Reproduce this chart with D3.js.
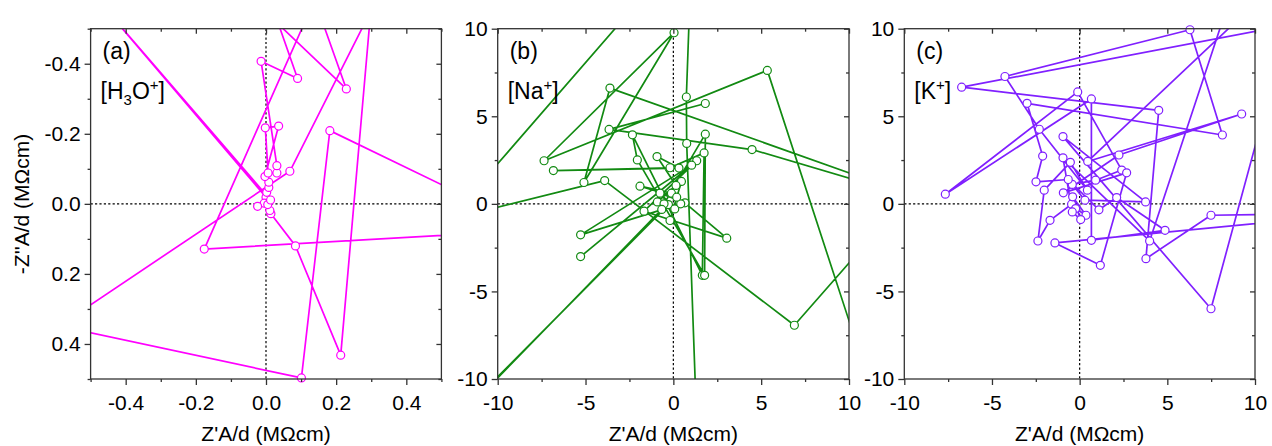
<!DOCTYPE html>
<html>
<head>
<meta charset="utf-8">
<script src="https://cdn.jsdelivr.net/npm/d3@7"></script>
<style>
  body { margin: 0; background: #fff; }
  svg { display: block; }
  text { font-family: "Liberation Sans", Arial, sans-serif; fill: #000; }
</style>
</head>
<body>
<svg id="chart" width="1272" height="446"></svg>
<script>
// ---- Data: normalised impedance trajectories (Z'A/d, -Z''A/d) in MOhm cm ----
// (a) H3O+
const h3oZre = [0.9, -0.176, 0.279, 0.475, 0.068, -0.95, -0.95, 0.101, 0.182, 1.2, 1.5, -0.92,
  0.0, 0.002, 0.008, 0.008, -0.003, 0.036, -0.002, 0.006, 0.031, 0.031, -0.014, 0.090, -0.10, -0.37,
  0.229, 0.026, 0.329, 0.213, 0.084, 0.014, 0.011, -0.005, 0.005, -0.024, 0.013, -0.90];
const h3oZim = [0.067, 0.129, -0.9, -0.9, -0.093, 0.59, 0.271, 0.497, -0.209, 0.284, -1.5, -1.10,
  -0.019, -0.033, -0.047, -0.062, -0.078, -0.222, -0.217, -0.088, -0.088, -0.109, -0.407, -0.358, -0.9, -0.9,
  -0.328, -0.9, -0.9, 0.432, 0.120, 0.028, 0.019, -0.002, 0.002, 0.007, -0.011, -1.07];

// (b) Na+
const naZre = [-12, -1.59, 0.95, 0.74, 0.76, 1.31, -12, -0.28, 0.08, -0.76, 0.66, 3.04, -1.67, 1.33,
  -5.28, 1.04, -5.28, 0.42, -0.11, -1.90, 0.19, -0.19, 0.46, -0.91, 0.15, -0.93, 0.32, -6.83, -0.19,
  1.75, 1.65, -2.33, -2.05, 1.78, 1.82, -0.53, -0.66, -12, -12, -3.91, 6.89, 12, 11, 5.35, -7.36,
  0.04, -5.09, -3.61, 12, 12, 4.48, -3.66, 1.82];
const naZim = [-0.02, 12, 12, 6.10, 3.45, -12, -11.9, -0.04, -0.29, 0.61, 0.06, -1.96, -0.42, 2.46,
  -3.01, 2.21, -1.77, 0.0, 0.61, 1.01, 0.38, -0.95, 1.28, 0.11, 1.05, 2.70, 2.04, 1.90, 2.06,
  2.91, -4.08, 3.94, 2.51, -4.08, 3.98, 0.0, -0.32, -12.0, -0.7, 1.33, -6.93, -1.09, -9.74, 7.62, 2.46,
  9.77, 1.22, 6.61, 1.06, 0.88, 3.10, 4.25, 5.73];

// (c) K+
const kZre = [11, 7.49, -0.95, 3.76, 0.30, -0.42, 0.91, 2.40, -0.11, -7.66, 0.67, 0.67, 4.87, 2.11,
  1.10, -0.65, -2.49, -2.11, -3.00, 8.14, 6.29, -4.26, -2.30, 0.44, -0.53, -2.02, -2.38, -1.69, -0.46,
  -0.23, 0.36, -0.40, 0.06, -0.42, -0.95, 3.99, 8.66, 10.6, 0.46, 9.24, 2.24, -0.93, 2.68, 1.18, -1.41,
  12, 12, 7.49, 3.78, 4.51, -6.73, 12];
const kZim = [6.95, -5.99, 3.84, 0.11, 0.21, 1.11, 1.35, 1.93, 6.39, 0.55, 5.99, -2.08, -1.51, 0.36,
  -0.34, 1.39, 1.26, 2.73, 5.74, 3.93, 9.94, 7.27, 4.26, 0.78, 2.37, 0.78, -2.12, -0.94, -0.02,
  -0.27, -0.65, 0.40, -0.90, -0.46, 2.63, -2.12, 12, 12, 2.42, 5.13, 2.79, 0.63, 1.77, -3.51, -2.23,
  -0.94, -0.58, -0.65, -3.13, 5.34, 6.66, 10.23];

// ---- Axis ticks and labels ----
const ticksA = [-0.4, -0.2, 0.0, 0.2, 0.4];
const minorA = [-0.5, -0.3, -0.1, 0.1, 0.3, 0.5];
const ticksBC = [-10, -5, 0, 5, 10];
const minorBC = [-7.5, -2.5, 2.5, 7.5];
const panelTags = ["(a)", "(b)", "(c)"];
const xTitle = "Z'A/d (M\u03A9cm)";
const yTitle = "-Z''A/d (M\u03A9cm)";

// ---- Layout ----
const svg = d3.select("#chart");
const plotTop = 28.7, plotBottom = 379;
const panels = [
  { x0: 90.6, x1: 441.4, dom: [-0.5, 0.5], yDom: [-0.5, 0.5], major: ticksA, minor: minorA,
    fmt: d => d.toFixed(1), zr: h3oZre, zi: h3oZim, color: "#ff00ff",
    ion: [["[H", 0], ["3", -1], ["O", 0], ["+", 1], ["]", 0]] },
  { x0: 497.7, x1: 849, dom: [-10, 10], yDom: [10, -10], major: ticksBC, minor: minorBC,
    fmt: d => String(d), zr: naZre, zi: naZim, color: "#128a12",
    ion: [["[Na", 0], ["+", 1], ["]", 0]] },
  { x0: 904.3, x1: 1255, dom: [-10, 10], yDom: [10, -10], major: ticksBC, minor: minorBC,
    fmt: d => String(d), zr: kZre, zi: kZim, color: "#8020ff",
    ion: [["[K", 0], ["+", 1], ["]", 0]] }
];

const axisColor = "#333";

panels.forEach((p, i) => {
  const x = d3.scaleLinear().domain(p.dom).range([p.x0, p.x1]);
  const y = d3.scaleLinear().domain(p.yDom).range([plotTop, plotBottom]);
  const g = svg.append("g");

  const clipId = "clip" + i;
  svg.append("clipPath").attr("id", clipId)
    .append("rect").attr("x", p.x0).attr("y", plotTop)
    .attr("width", p.x1 - p.x0).attr("height", plotBottom - plotTop);

  // dotted zero lines
  g.append("line").attr("x1", x(0)).attr("x2", x(0)).attr("y1", plotTop).attr("y2", plotBottom)
    .attr("stroke", "#000").attr("stroke-width", 1.2).attr("stroke-dasharray", "2.2,2.2");
  g.append("line").attr("x1", p.x0).attr("x2", p.x1).attr("y1", y(0)).attr("y2", y(0))
    .attr("stroke", "#000").attr("stroke-width", 1.2).attr("stroke-dasharray", "2.2,2.2");

  // trajectory
  const pts = p.zr.map((v, k) => [v, p.zi[k]]);
  const line = d3.line().x(d => x(d[0])).y(d => y(d[1]));
  g.append("path").attr("d", line(pts)).attr("fill", "none")
    .attr("stroke", p.color).attr("stroke-width", 1.7)
    .attr("stroke-linejoin", "round")
    .attr("clip-path", `url(#${clipId})`);

  const lo = Math.min(...p.dom), hi = Math.max(...p.dom);
  g.selectAll("circle").data(pts.filter(d => d[0] >= lo && d[0] <= hi && d[1] >= lo && d[1] <= hi))
    .join("circle")
    .attr("cx", d => x(d[0])).attr("cy", d => y(d[1])).attr("r", 4)
    .attr("fill", "#fff").attr("stroke", p.color).attr("stroke-width", 1.2);

  // axes
  const styleAxis = sel => {
    sel.select(".domain").remove();
    sel.selectAll("line").attr("stroke", axisColor).attr("stroke-width", 1.3);
    sel.selectAll("text").style("font-size", "21px").attr("fill", "#000")
      .style("font-family", '"Liberation Sans", Arial, sans-serif');
  };
  const mkAxes = [
    [d3.axisBottom(x), `translate(0,${plotBottom})`, 6, 3, true, 10],
    [d3.axisLeft(y), `translate(${p.x0},0)`, 6, 3, true, 4],
    [d3.axisTop(x), `translate(0,${plotTop})`, -5, -3, false, 4],
    [d3.axisRight(y), `translate(${p.x1},0)`, -5, -3, false, 4]
  ];
  mkAxes.forEach(([ax, tr, majLen, minLen, labels, pad]) => {
    const ga = g.append("g").attr("transform", tr);
    ga.call(ax.tickValues(p.major).tickSize(majLen).tickPadding(pad)
      .tickFormat(labels ? p.fmt : ""));
    styleAxis(ga);
    const gm = g.append("g").attr("transform", tr);
    gm.call(ax.tickValues(p.minor).tickSize(minLen).tickFormat(""));
    styleAxis(gm);
  });

  // frame
  g.append("rect").attr("x", p.x0).attr("y", plotTop)
    .attr("width", p.x1 - p.x0).attr("height", plotBottom - plotTop)
    .attr("fill", "none").attr("stroke", axisColor).attr("stroke-width", 1.3);

  // x title
  g.append("text").attr("x", (p.x0 + p.x1) / 2).attr("y", 440.5)
    .attr("text-anchor", "middle").style("font-size", "21px").text(xTitle);

  // panel tag and ion label
  g.append("text").attr("x", p.x0 + 12).attr("y", 58.5)
    .style("font-size", "23px").text(panelTags[i]);
  const ion = g.append("text").attr("x", p.x0 + 10).attr("y", 98.5).style("font-size", "23px");
  let shift = 0;
  p.ion.forEach(([s, pos]) => {
    const target = pos === -1 ? 6 : pos === 1 ? -9 : 0;
    ion.append("tspan").attr("dy", target - shift)
      .style("font-size", pos === 0 ? "23px" : "15px").text(s);
    shift = target;
  });
});

// y title (left panel only)
svg.append("text")
  .attr("transform", "translate(29,204) rotate(-90)")
  .attr("text-anchor", "middle").style("font-size", "21px").text(yTitle);
</script>
</body>
</html>
